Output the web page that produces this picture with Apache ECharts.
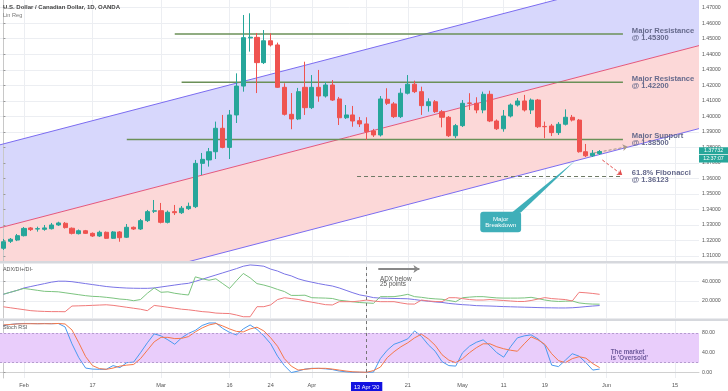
<!DOCTYPE html>
<html>
<head>
<meta charset="utf-8">
<script src="https://cdn.jsdelivr.net/npm/echarts@6.0.0/dist/echarts.min.js"></script>
<style>
html,body{margin:0;padding:0;background:#ffffff;}
#chart{width:728px;height:391px;}
</style>
</head>
<body>
<div id="chart"></div>
<script>
// ---------------- DATA ----------------
const dates = [
'2020-01-29','2020-01-30','2020-01-31',
'2020-02-03','2020-02-04','2020-02-05','2020-02-06','2020-02-07','2020-02-10','2020-02-11','2020-02-12','2020-02-13','2020-02-14',
'2020-02-17','2020-02-18','2020-02-19','2020-02-20','2020-02-21','2020-02-24','2020-02-25','2020-02-26','2020-02-27','2020-02-28',
'2020-03-02','2020-03-03','2020-03-04','2020-03-05','2020-03-06','2020-03-09','2020-03-10','2020-03-11','2020-03-12','2020-03-13',
'2020-03-16','2020-03-17','2020-03-18','2020-03-19','2020-03-20','2020-03-23','2020-03-24','2020-03-25','2020-03-26','2020-03-27',
'2020-03-30','2020-03-31',
'2020-04-01','2020-04-02','2020-04-03','2020-04-06','2020-04-07','2020-04-08','2020-04-09','2020-04-10','2020-04-13','2020-04-14',
'2020-04-15','2020-04-16','2020-04-17','2020-04-20','2020-04-21','2020-04-22','2020-04-23','2020-04-24','2020-04-27','2020-04-28',
'2020-04-29','2020-04-30',
'2020-05-01','2020-05-04','2020-05-05','2020-05-06','2020-05-07','2020-05-08','2020-05-11','2020-05-12','2020-05-13','2020-05-14',
'2020-05-15','2020-05-18','2020-05-19','2020-05-20','2020-05-21','2020-05-22','2020-05-25','2020-05-26','2020-05-27','2020-05-28',
'2020-05-29'
];
const futureDates = ['2020-06-01','2020-06-02','2020-06-03','2020-06-04','2020-06-05','2020-06-08','2020-06-09','2020-06-10',
'2020-06-11','2020-06-12','2020-06-15','2020-06-16','2020-06-17','2020-06-18'];

// [open, close, low, high]
const ohlc = [
[1.3150,1.3192,1.3139,1.3210],[1.3195,1.3208,1.3184,1.3216],[1.3203,1.3231,1.3196,1.3242],[1.3231,1.3278,1.3226,1.3287],
[1.3281,1.3270,1.3261,1.3287],[1.3274,1.3276,1.3257,1.3289],[1.3272,1.3281,1.3263,1.3300],[1.3276,1.3300,1.3271,1.3313],
[1.3300,1.3313,1.3294,1.3321],[1.3311,1.3283,1.3277,1.3319],[1.3279,1.3246,1.3239,1.3284],[1.3244,1.3263,1.3239,1.3271],
[1.3263,1.3246,1.3242,1.3268],[1.3246,1.3229,1.3223,1.3252],[1.3229,1.3253,1.3223,1.3263],[1.3253,1.3214,1.3210,1.3258],
[1.3214,1.3255,1.3210,1.3261],[1.3255,1.3218,1.3192,1.3261],[1.3221,1.3285,1.3216,1.3306],[1.3285,1.3274,1.3268,1.3290],
[1.3274,1.3328,1.3268,1.3339],[1.3328,1.3386,1.3319,1.3397],[1.3389,1.3391,1.3377,1.3461],[1.3392,1.3317,1.3310,1.3442],
[1.3317,1.3382,1.3310,1.3393],[1.3386,1.3379,1.3364,1.3429],[1.3379,1.3408,1.3371,1.3422],[1.3405,1.3420,1.3397,1.3444],
[1.3418,1.3697,1.3409,1.3719],[1.3697,1.3723,1.3622,1.3764],[1.3719,1.3772,1.3676,1.3796],[1.3772,1.3923,1.3725,1.3966],
[1.3923,1.3800,1.3794,1.4009],[1.3800,1.4009,1.3725,1.4041],[1.4009,1.4195,1.3957,1.4277],[1.4195,1.4507,1.4159,1.4653],
[1.4505,1.4510,1.4417,1.4664],[1.4509,1.4346,1.4150,1.4537],[1.4346,1.4487,1.4337,1.4556],[1.4487,1.4460,1.4450,1.4535],
[1.4460,1.4187,1.4183,1.4475],[1.4187,1.4013,1.4005,1.4213],[1.4013,1.3983,1.3917,1.4150],[1.3983,1.4159,1.3976,1.4183],
[1.4187,1.4056,1.4009,1.4352],[1.4056,1.4187,1.4047,1.4266],[1.4187,1.4131,1.4094,1.4299],[1.4131,1.4202,1.4121,1.4221],
[1.4202,1.4105,1.4099,1.4234],[1.4112,1.3991,1.3944,1.4125],[1.3991,1.4009,1.3983,1.4073],[1.4009,1.3970,1.3933,1.4067],
[1.3972,1.3951,1.3931,1.3996],[1.3951,1.3901,1.3848,1.3994],[1.3906,1.3880,1.3867,1.3919],[1.3880,1.4112,1.3870,1.4131],
[1.4110,1.4084,1.4073,1.4181],[1.4080,1.3998,1.3989,1.4092],[1.3998,1.4149,1.3989,1.4181],[1.4149,1.4207,1.4141,1.4266],
[1.4207,1.4159,1.4150,1.4230],[1.4159,1.4069,1.4009,1.4191],[1.4069,1.4094,1.4030,1.4116],[1.4094,1.4030,1.4022,1.4105],
[1.4030,1.3994,1.3929,1.4041],[1.3994,1.3875,1.3867,1.4002],[1.3875,1.3940,1.3859,1.3951],[1.3940,1.4084,1.3931,1.4105],
[1.4086,1.4084,1.4041,1.4149],[1.4084,1.4041,1.4020,1.4123],[1.4041,1.4142,1.4020,1.4159],[1.4142,1.3970,1.3963,1.4165],
[1.3970,1.3920,1.3912,1.3980],[1.3920,1.4002,1.3901,1.4041],[1.4002,1.4073,1.3993,1.4083],[1.4073,1.4099,1.4063,1.4118],
[1.4099,1.4041,1.4031,1.4138],[1.4041,1.4105,1.4015,1.4115],[1.4105,1.3933,1.3925,1.4112],[1.3935,1.3933,1.3859,1.3966],
[1.3938,1.3895,1.3873,1.3951],[1.3895,1.3949,1.3880,1.3963],[1.3949,1.3994,1.3941,1.4045],[1.3994,1.3976,1.3967,1.4009],
[1.3976,1.3772,1.3766,1.3983],[1.3772,1.3746,1.3738,1.3822],[1.3746,1.3762,1.3738,1.3783],[1.3760,1.3773,1.3751,1.3783]
];

const adx = [27,29,31,33.5,35,36.5,38,39.5,40.5,40.5,
 40,39,38,37,36,35,34.3,33.8,33.4,33.2,
 33.1,33.1,33.5,34.5,35.5,36.5,37.5,38.3,40.3,42.5,
 44.7,46.9,49.1,51.3,53.5,56,57.3,56.8,56,53,
 51,48,46,43,41,39.5,38,36.7,35.5,33.5,
 31,28.5,26.3,25,23.5,23,22.8,22.6,22.5,22.3,
 21.5,20.5,19.8,19,18.5,17.5,16.8,16.2,15.8,15.2,
 15,14.8,14.5,14.2,14,13.8,13.6,13.4,13.2,13,
 12.9,12.8,12.8,13,13.5,14.2,14.8,15.3];
const diPlus = [27,29,31,33,32,31,30,29.8,29.5,28.5,
 27.5,26.5,25.5,24.8,24.5,23.8,23,22,21.5,20.3,
 21.5,28,33.5,29,29.5,28,27,26.2,45,43,
 41.5,43,38,33,41,48.5,44,38,36.5,34.5,
 32,29.8,25.8,25.8,26,23.4,23.2,23,22.6,20.8,
 20,19.2,18.4,18,17.6,24.5,24.5,24.5,25.5,26.9,
 24.5,23.8,22.8,22.2,21.8,20.5,19.3,23.4,24,24.5,
 24.5,23.8,23.2,23,23,23,23.2,23.8,22.5,21,
 20,19.5,19.8,20,18,17.2,16.8,16.7];
const diMinus = [14,13,12,11,10,9.5,9.2,9,9,8.9,
 14.8,15,15.2,15.5,15.8,16.1,15.5,14.5,13.5,12.5,
 11.5,10,15.4,14.5,13.5,12.5,11.5,10.9,10,9,
 8.5,7.5,7.2,7,5.5,3.7,3.7,14.1,14.1,16,
 21.5,23.4,22.5,21.6,20,18.8,17.5,16.2,15.9,19.3,
 19.3,19.3,20,21,20,19.3,19.3,19.3,18,16.9,
 16.8,21,20,19.5,19.3,23.4,23.4,22.5,21.5,21,
 21,21.5,21,20.5,20,19.5,19.5,20.5,22,23.5,
 22.5,22,21.5,20,29,28.5,27.8,26.9];
const stochK = [95,97,98.5,99,99,98.5,99,98.5,99,92,
 58,30,9,7,6.5,6.5,14,10,20,21,
 40,60,78,74,66,57,70,79,85,95,
 100,100,89,81,76,88,96,87,74,58,
 33,14,0,3,7,8.5,8.5,7.5,6,3,
 1.5,0.5,0.5,0.5,1,28,45,57,62,68,
 84,73,56,43,22,14,13,40,53,61,
 66,54,40,31,52,70,74,76,68,55,
 15,12,25,38,33,20,5,7];
const stochD = [96,97,98,98.5,98.5,98.5,98.5,98.5,99,98,
 86,60,32,14,8,6.5,9,13,15,16.3,
 28,45,62,71,71,68.5,69,72.5,82,90,
 96,99,94,88,83,82,88,91.5,84,70,
 53,28,13,5,6.5,8,8.5,8.5,7,5,
 3,1.5,1,0.5,4,11,30,42,52,60,
 70,77.4,68,55,36,25,20,28,40,50,
 58,58,52,48,45,43,58,72,66,57,
 38,24,20,28,32,29,18,10];

const tickIndex = [3,13,23,33,39,45,53,59,67,73,79,88,98];
const tickText = ['Feb','17','Mar','16','24','Apr',"13 Apr '20",'21','May','11','19','Jun','15'];
const priceTicks = [1.31,1.32,1.33,1.34,1.35,1.36,1.37,1.38,1.39,1.40,1.41,1.42,1.43,1.44,1.45,1.46,1.47];
const adxTicks = [20,40];
const stochTicks = [0,40,80];
const levels = [1.453, 1.422, 1.385];
const levelText = ['Major Resistance\n@ 1.45300','Major Resistance\n@ 1.42200','Major Support\n@ 1.38500'];
const fibLevel = 1.36123;
const fibText = '61.8% Fibonacci\n@ 1.36123';
const linRegMid = [1.32818, 1.44558];
const linRegDev = 0.05348;
const lastPrice = 1.37732;
const countdown = '12:37:07';
const crossIdx = 53;

// ---------------- CHART ----------------
const FONT = "'Liberation Sans', Arial, sans-serif";
const allDates = dates.concat(futureDates);
const xMin = -0.5, xMax = allDates.length - 0.5;
const pairs = a => a.map((v, i) => [i, v]);
const lrLow = [linRegMid[0] - linRegDev, linRegMid[1] - linRegDev];
const lrUp = [linRegMid[0] + linRegDev, linRegMid[1] + linRegDev];

const gridLine = { show: true, lineStyle: { color: '#eceef2', width: 1 } };
function valX(gi, withLabels) {
  return {
    type: 'value', gridIndex: gi, min: xMin, max: xMax,
    axisLine: { show: withLabels, lineStyle: { color: '#d0d0d0' } },
    axisTick: { show: false, customValues: tickIndex },
    axisLabel: withLabels ? {
      show: true, customValues: tickIndex, margin: 4, fontSize: 5.6, color: '#555', fontFamily: FONT,
      hideOverlap: false,
      formatter: v => {
        const k = tickIndex.indexOf(Math.round(v));
        const t = k >= 0 ? tickText[k] : '';
        return Math.round(v) === crossIdx ? '{hl|' + t + '}' : t;
      },
      rich: { hl: { backgroundColor: '#1212e0', color: '#ffffff', padding: [2, 3, 1, 3], fontSize: 5.6, fontFamily: FONT } }
    } : { show: false, customValues: tickIndex },
    splitLine: gridLine
  };
}
function valY(gi, min, max, ticks, dec) {
  return {
    type: 'value', gridIndex: gi, position: 'right', min: min, max: max,
    axisLine: { show: true, lineStyle: { color: '#c8c8c8' } },
    axisTick: { show: true, length: 2, customValues: ticks, lineStyle: { color: '#999' } },
    axisLabel: { show: true, customValues: ticks, formatter: v => v.toFixed(dec), fontSize: 5.2, color: '#555', margin: 3, fontFamily: FONT },
    splitLine: gridLine
  };
}

const chart = echarts.init(document.getElementById('chart'), null, { renderer: 'canvas' });

// Regression channel fills, drawn through the axes
const channelFill = {
  type: 'custom', xAxisIndex: 1, yAxisIndex: 0, clip: true, silent: true, z: 0,
  data: [[0, linRegMid[0]]],
  renderItem: (params, api) => {
    const c = (x, y) => api.coord([x, y]);
    return { type: 'group', children: [
      { type: 'polygon', shape: { points: [c(xMin, lrLow[0]), c(xMax, lrLow[1]), c(xMax, linRegMid[1]), c(xMin, linRegMid[0])] }, style: { fill: '#fcd8d8' } },
      { type: 'polygon', shape: { points: [c(xMin, linRegMid[0]), c(xMax, linRegMid[1]), c(xMax, lrUp[1]), c(xMin, lrUp[0])] }, style: { fill: '#d7d7fc' } }
    ] };
  }
};

const mainAnnot = {
  type: 'custom', xAxisIndex: 1, yAxisIndex: 0, clip: false, silent: true, z: 20,
  data: [[0, lastPrice]],
  renderItem: (params, api) => {
    const c = (x, y) => api.coord([x, y]);
    const kids = [];
    const texts = levelText.concat([fibText]);
    const vals = levels.concat([fibLevel]);
    texts.forEach((t, k) => {
      const p = c(91.7, vals[k]);
      kids.push({ type: 'text', x: p[0], y: p[1], style: { text: t, fill: '#666a8c', font: 'bold 7.6px ' + FONT, align: 'left', verticalAlign: 'middle', lineHeight: 6.8 } });
    });
    // callout "Major Breakdown"
    const tl = c(69.58, 1.33856), br = c(75.54, 1.32528);
    const b1 = c(74.2, 1.3380), b2 = c(75.5, 1.3380), tip = c(83.43, 1.37142);
    kids.push({ type: 'polygon', shape: { points: [b1, b2, tip] }, style: { fill: '#3fafb9' } });
    kids.push({ type: 'rect', shape: { x: tl[0], y: tl[1], width: br[0] - tl[0], height: br[1] - tl[1], r: 3 }, style: { fill: '#3fafb9' } });
    kids.push({ type: 'text', x: (tl[0] + br[0]) / 2, y: (tl[1] + br[1]) / 2, style: { text: 'Major\nBreakdown', fill: '#ffffff', font: '6.2px ' + FONT, align: 'center', verticalAlign: 'middle', lineHeight: 6.2 } });
    // last price + countdown
    const pp = c(xMax, lastPrice);
    kids.push({ type: 'rect', shape: { x: pp[0], y: pp[1] - 4.3, width: 29, height: 7 }, style: { fill: '#26a69a' } });
    kids.push({ type: 'text', x: pp[0] + 14.5, y: pp[1] - 0.8, style: { text: lastPrice.toFixed(5), fill: '#fff', font: '5.3px ' + FONT, align: 'center', verticalAlign: 'middle' } });
    kids.push({ type: 'rect', shape: { x: pp[0], y: pp[1] + 3.4, width: 29, height: 7.6 }, style: { fill: '#26a69a' } });
    kids.push({ type: 'text', x: pp[0] + 14.5, y: pp[1] + 7.2, style: { text: countdown, fill: '#fff', font: '5.3px ' + FONT, align: 'center', verticalAlign: 'middle' } });
    return { type: 'group', children: kids };
  }
};

const adxAnnot = {
  type: 'custom', xAxisIndex: 2, yAxisIndex: 1, clip: false, silent: true, z: 20,
  data: [[0, 0]],
  renderItem: (params, api) => {
    const p = api.coord([54.94, 40]);
    return { type: 'text', x: p[0], y: p[1], style: { text: 'ADX below\n25 points', fill: '#555', font: '6.4px ' + FONT, align: 'left', verticalAlign: 'middle', lineHeight: 5.8 } };
  }
};
const stochAnnot = {
  type: 'custom', xAxisIndex: 3, yAxisIndex: 2, clip: false, silent: true, z: 20,
  data: [[0, 0]],
  renderItem: (params, api) => {
    const p = api.coord([88.62, 35]);
    return { type: 'text', x: p[0], y: p[1], style: { text: "The market\nis 'Oversold'", fill: '#6e5a9c', font: 'bold 6.3px ' + FONT, align: 'left', verticalAlign: 'middle', lineHeight: 5.6 } };
  }
};

const crossLine = { xAxis: crossIdx, lineStyle: { type: [3, 3], color: '#777', width: 1 } };

const option = {
  animation: false,
  backgroundColor: '#ffffff',
  textStyle: { fontFamily: FONT },
  grid: [
    { left: -3, right: 29, top: 0, height: 261 },
    { left: -3, right: 29, top: 264, height: 54 },
    { left: -3, right: 29, top: 321, height: 59 }
  ],
  xAxis: [
    { type: 'category', gridIndex: 0, data: allDates, boundaryGap: true, show: false },
    valX(0, false), valX(1, false), valX(2, true)
  ],
  yAxis: [
    valY(0, 1.30679, 1.47496, priceTicks, 5),
    valY(1, 2.4, 58.3, adxTicks, 4),
    valY(2, -11, 104, stochTicks, 2)
  ],
  graphic: [
    { type: 'rect', shape: { x: 0, y: 261, width: 728, height: 2.5 }, style: { fill: '#d6d8dd' }, z: 100 },
    { type: 'rect', shape: { x: 0, y: 318.5, width: 728, height: 2.5 }, style: { fill: '#d6d8dd' }, z: 100 },
    { type: 'text', x: 3, y: 7, style: { text: 'U.S. Dollar / Canadian Dollar, 1D, OANDA', font: 'bold 6px ' + FONT, fill: '#444', verticalAlign: 'middle' }, z: 100 },
    { type: 'text', x: 3, y: 15, style: { text: 'Lin Reg', font: '5.6px ' + FONT, fill: '#777', verticalAlign: 'middle' }, z: 100 },
    { type: 'text', x: 3, y: 269.5, style: { text: 'ADX/DI+/DI-', font: '5.4px ' + FONT, fill: '#555', verticalAlign: 'middle' }, z: 100 },
    { type: 'text', x: 3, y: 327.5, style: { text: 'Stoch RSI', font: '5.4px ' + FONT, fill: '#555', verticalAlign: 'middle' }, z: 100 }
  ],
  series: [
    channelFill,
    // linear regression channel lines
    { type: 'line', xAxisIndex: 1, yAxisIndex: 0, silent: true, z: 2, symbol: 'none',
      data: [[xMin, lrLow[0]], [xMax, lrLow[1]]], lineStyle: { color: '#7b6cf0', width: 1 } },
    { type: 'line', xAxisIndex: 1, yAxisIndex: 0, silent: true, z: 2, symbol: 'none',
      data: [[xMin, linRegMid[0]], [xMax, linRegMid[1]]], lineStyle: { color: '#e4577c', width: 1 } },
    { type: 'line', xAxisIndex: 1, yAxisIndex: 0, silent: true, z: 2, symbol: 'none',
      data: [[xMin, lrUp[0]], [xMax, lrUp[1]]], lineStyle: { color: '#7b6cf0', width: 1 } },
    // horizontal levels
    { type: 'line', xAxisIndex: 1, yAxisIndex: 0, silent: true, z: 3, symbol: 'none',
      data: [[25, levels[0]], [90.4, levels[0]]], lineStyle: { color: '#6b9058', width: 1.5 } },
    { type: 'line', xAxisIndex: 1, yAxisIndex: 0, silent: true, z: 3, symbol: 'none',
      data: [[26, levels[1]], [90.4, levels[1]]], lineStyle: { color: '#6b9058', width: 1.5 } },
    { type: 'line', xAxisIndex: 1, yAxisIndex: 0, silent: true, z: 3, symbol: 'none',
      data: [[18, levels[2]], [90.4, levels[2]]], lineStyle: { color: '#6b9058', width: 1.5 } },
    { type: 'line', xAxisIndex: 1, yAxisIndex: 0, silent: true, z: 3, symbol: 'none',
      data: [[51.6, fibLevel], [90.4, fibLevel]], lineStyle: { color: '#6e7a66', width: 1, type: [4, 3] },
      markLine: {
        silent: true, symbol: ['none', 'arrow'], symbolSize: 5, label: { show: false },
        data: [
          [{ coord: [86.15, 1.37638], lineStyle: { color: '#a8998a', type: [3, 2], width: 1 } }, { coord: [91.1, 1.38044] }],
          [{ coord: [87.4, 1.37187], lineStyle: { color: '#e24d4d', type: [3, 2], width: 1 } }, { coord: [90.3, 1.36220] }]
        ]
      } },
    // candles
    { type: 'candlestick', xAxisIndex: 0, yAxisIndex: 0, z: 5, barWidth: 4.6, data: ohlc,
      itemStyle: { color: '#26a69a', color0: '#ef5350', borderColor: '#26a69a', borderColor0: '#ef5350', borderWidth: 1 } },
    mainAnnot,
    // ADX / DI
    { type: 'line', xAxisIndex: 2, yAxisIndex: 1, symbol: 'none', z: 3, data: pairs(adx), lineStyle: { color: '#7a74e6', width: 1 },
      markLine: {
        silent: true, symbol: ['none', 'none'], label: { show: false },
        data: [
          crossLine,
          [{ coord: [54.7, 53.2], lineStyle: { color: '#888', width: 1.8, type: 'solid' } }, { coord: [60.7, 53.2], symbol: 'arrow', symbolSize: 6 }]
        ]
      } },
    { type: 'line', xAxisIndex: 2, yAxisIndex: 1, symbol: 'none', z: 3, data: pairs(diPlus), lineStyle: { color: '#7cc47f', width: 1 } },
    { type: 'line', xAxisIndex: 2, yAxisIndex: 1, symbol: 'none', z: 3, data: pairs(diMinus), lineStyle: { color: '#f07a7a', width: 1 } },
    adxAnnot,
    // Stoch RSI band carrier
    { type: 'line', xAxisIndex: 3, yAxisIndex: 2, symbol: 'none', z: 1, data: pairs(stochK), lineStyle: { opacity: 0 }, silent: true,
      markArea: { silent: true, itemStyle: { color: '#e9cdfb' }, data: [[{ yAxis: 20 }, { yAxis: 80 }]] },
      markLine: {
        silent: true, symbol: ['none', 'none'], label: { show: false },
        data: [
          { yAxis: 80, lineStyle: { color: '#b59ccf', type: [2, 2], width: 1 } },
          { yAxis: 20, lineStyle: { color: '#b59ccf', type: [2, 2], width: 1 } },
          crossLine
        ]
      } },
    { type: 'line', xAxisIndex: 3, yAxisIndex: 2, symbol: 'none', z: 3, data: pairs(stochK), lineStyle: { color: '#4a9af0', width: 1 } },
    { type: 'line', xAxisIndex: 3, yAxisIndex: 2, symbol: 'none', z: 3, data: pairs(stochD), lineStyle: { color: '#f5784a', width: 1 } },
    stochAnnot
  ]
};
chart.setOption(option);
</script>
</body>
</html>
